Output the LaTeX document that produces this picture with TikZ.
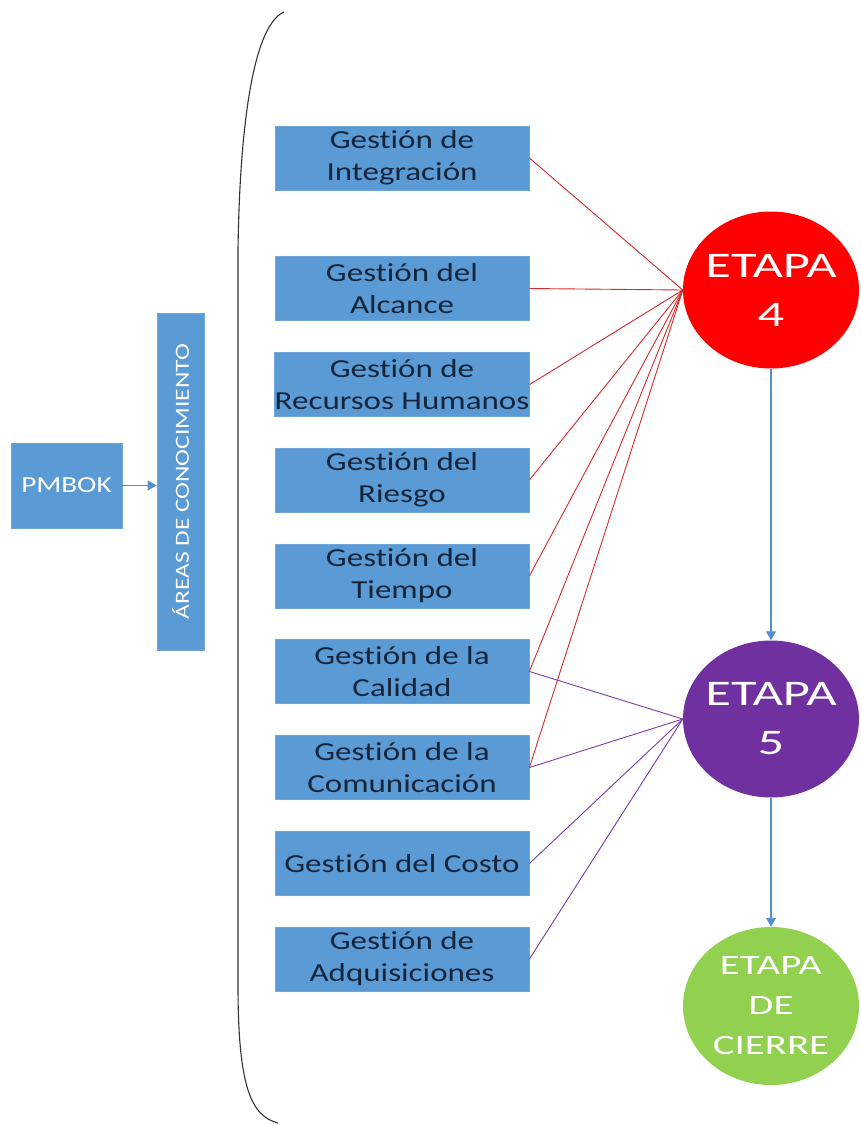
\documentclass[tikz,border=0pt]{standalone}
\usepackage{fontspec}
\setmainfont{Carlito}[FakeStretch=1.27, Ligatures={NoCommon}]
\newfontfamily\widefont{Carlito}[FakeStretch=1.46, Ligatures={NoCommon}]
\usetikzlibrary{shapes.geometric,arrows.meta}

\definecolor{boxblue}{HTML}{5B9BD5}
\definecolor{boxedge}{HTML}{6FA6D9}
\definecolor{boxtext}{HTML}{16253A}
\definecolor{arrowblue}{HTML}{5590CC}
\definecolor{stagered}{HTML}{FF0000}
\definecolor{stagepurple}{HTML}{7030A0}
\definecolor{stagegreen}{HTML}{92D050}
\definecolor{linkred}{HTML}{D42A2A}
\definecolor{linkpurple}{HTML}{7A3AA8}
\definecolor{bracegray}{HTML}{333333}

\tikzset{
  area/.style={rectangle, fill=boxblue, draw=boxedge, line width=0.8pt,
    minimum width=254pt, minimum height=64pt, inner sep=0pt,
    align=center, text=boxtext, font=\fontsize{26}{32}\selectfont},
  bluebox/.style={rectangle, fill=boxblue, draw=boxedge, line width=0.8pt,
    inner sep=0pt, text=white},
  % negative inner sep keeps the ellipse at its minimum size
  stage/.style={ellipse, minimum width=176pt, minimum height=157pt,
    inner xsep=-30pt, inner ysep=-25pt, align=center, text=white},
  flow/.style={draw=arrowblue, line width=1.1pt,
    -{Triangle[length=9pt,width=10pt]}},
  redlink/.style={draw=linkred, line width=0.9pt},
  purplelink/.style={draw=linkpurple, line width=0.9pt},
}

\begin{document}
\begin{tikzpicture}[x=1pt, y=-1pt]
\useasboundingbox (0,0) rectangle (860,1125);

% left entry: PMBOK and the knowledge-areas bar
\node[bluebox, minimum width=111pt, minimum height=85pt,
      font=\fontsize{23}{27}\selectfont] (pmbok) at (66.5,485.5) {PMBOK};
\node[bluebox, rotate=90, minimum width=337pt, minimum height=47pt,
      font=\fontsize{20}{24}\selectfont] (areas) at (180.5,481.5)
      {ÁREAS DE CONOCIMIENTO};
\draw[flow] (pmbok.east) -- (pmbok.east -| areas.north);

% grouping parenthesis
\draw[bracegray, line width=1.1pt]
  (284,12) .. controls (256,24) and (240,110) .. (238,250)
  -- (238,985)
  .. controls (238,1090) and (252,1116) .. (278,1123);

% knowledge areas
\node[area] (integ) at (402,158)   {Gestión de\\Integración};
\node[area] (alc)   at (402,288.5) {Gestión del\\Alcance};
\node[area] (rrhh)  at (402,384.5) {Gestión de\\Recursos Humanos};
\node[area] (ries)  at (402,480)   {Gestión del\\Riesgo};
\node[area] (tiem)  at (402,576)   {Gestión del\\Tiempo};
\node[area] (cal)   at (402,671.5) {Gestión de la\\Calidad};
\node[area] (com)   at (402,767.5) {Gestión de la\\Comunicación};
\node[area] (cost)  at (402,863.5) {Gestión del Costo};
\node[area] (adq)   at (402,959)   {Gestión de\\Adquisiciones};

% stages
\node[stage, fill=stagered, font=\widefont\fontsize{36}{49}\selectfont]
  (e4) at (771,290) {ETAPA\\4};
\node[stage, fill=stagepurple, font=\widefont\fontsize{36}{49}\selectfont]
  (e5) at (771,719) {ETAPA\\5};
\node[stage, fill=stagegreen, minimum height=158pt,
      font=\widefont\fontsize{28}{40}\selectfont]
  (cierre) at (771,1006) {ETAPA\\DE\\CIERRE};

\draw[flow] (e4.south) -- (e5.north);
\draw[flow] (e5.south) -- (cierre.north);

% links to stage 4
\foreach \b in {integ,alc,rrhh,ries,tiem,cal,com}
  \draw[redlink] (\b.east) -- (e4.west);

% links to stage 5
\foreach \b in {cal,com,cost,adq}
  \draw[purplelink] (\b.east) -- (e5.west);
\end{tikzpicture}
\end{document}
